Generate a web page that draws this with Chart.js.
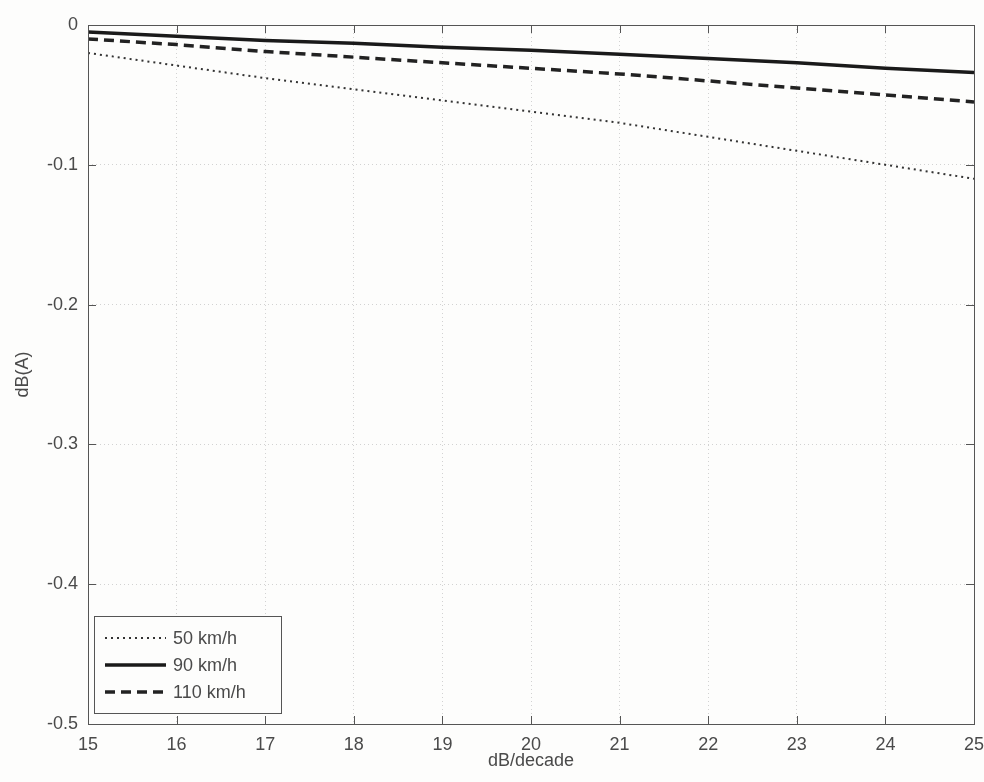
<!DOCTYPE html>
<html>

<head>
    <script src="https://cdn.jsdelivr.net/npm/chart.js@4.4.0/dist/chart.umd.min.js"></script>
    <style>
        html, body { margin: 0; padding: 0; background: #fdfdfc; }
        #wrap { width: 984px; height: 782px; }
    </style>
</head>

<body>
    <div id="wrap">
        <canvas id="myChart" width="984" height="782"></canvas>
    </div>
    <script>
        // slope values (dB/decade) and attenuation per speed
        const slopes = [15, 16, 17, 18, 19, 20, 21, 22, 23, 24, 25];
        const speedLabels = ["50 km/h", "90 km/h", "110 km/h"];
        const v50 = [-0.020, -0.029, -0.038, -0.046, -0.054, -0.062, -0.070, -0.080, -0.090, -0.100, -0.110];
        const v90 = [-0.005, -0.008, -0.011, -0.013, -0.016, -0.018, -0.021, -0.024, -0.027, -0.031, -0.034];
        const v110 = [-0.010, -0.014, -0.019, -0.023, -0.027, -0.031, -0.035, -0.040, -0.045, -0.050, -0.055];
        const yTicks = [0, -0.1, -0.2, -0.3, -0.4, -0.5];

        const FONT = "'Liberation Sans', Arial, sans-serif";
        const TXT = '#4a4a4a';

        function toPoints(vals) {
            return slopes.map((x, i) => ({ x: x, y: vals[i] }));
        }

        // box around the axes with inward ticks on every side
        const framePlugin = {
            id: 'frame',
            afterDatasetsDraw(chart) {
                const { ctx, chartArea: a, scales } = chart;
                ctx.save();
                ctx.strokeStyle = '#555';
                ctx.lineWidth = 1;
                ctx.strokeRect(a.left + 0.5, a.top + 0.5, a.right - a.left, a.bottom - a.top);
                const len = 8;
                ctx.beginPath();
                scales.x.ticks.forEach(t => {
                    const px = Math.round(scales.x.getPixelForValue(t.value)) + 0.5;
                    ctx.moveTo(px, a.bottom); ctx.lineTo(px, a.bottom - len);
                    ctx.moveTo(px, a.top); ctx.lineTo(px, a.top + len);
                });
                scales.y.ticks.forEach(t => {
                    const py = Math.round(scales.y.getPixelForValue(t.value)) + 0.5;
                    ctx.moveTo(a.left, py); ctx.lineTo(a.left + len, py);
                    ctx.moveTo(a.right, py); ctx.lineTo(a.right - len, py);
                });
                ctx.stroke();
                ctx.restore();
            }
        };

        // legend drawn inside the lower left corner of the plot
        const boxLegend = {
            id: 'boxLegend',
            afterDraw(chart) {
                const { ctx, chartArea: a } = chart;
                const x0 = a.left + 6, y0 = a.bottom - 108, w = 187, h = 97;
                ctx.save();
                ctx.fillStyle = '#fdfdfc';
                ctx.fillRect(x0, y0, w, h);
                ctx.strokeStyle = '#555';
                ctx.lineWidth = 1;
                ctx.strokeRect(x0 + 0.5, y0 + 0.5, w, h);
                ctx.font = '18px ' + FONT;
                ctx.textBaseline = 'middle';
                chart.data.datasets.forEach((ds, i) => {
                    const cy = y0 + 22 + i * 27;
                    ctx.beginPath();
                    ctx.setLineDash(ds.borderDash || []);
                    ctx.strokeStyle = ds.borderColor;
                    ctx.lineWidth = ds.borderWidth;
                    ctx.moveTo(x0 + 11, cy);
                    ctx.lineTo(x0 + 72, cy);
                    ctx.stroke();
                    ctx.setLineDash([]);
                    ctx.fillStyle = TXT;
                    ctx.fillText(ds.label, x0 + 79, cy + 1);
                });
                ctx.restore();
            }
        };

        (function () {
            new Chart(document.getElementById('myChart'), {
                type: 'line',
                data: {
                    datasets: [{
                        label: speedLabels[0],
                        data: toPoints(v50),
                        borderColor: '#333',
                        borderWidth: 2,
                        borderDash: [2, 4],
                        pointRadius: 0
                    }, {
                        label: speedLabels[1],
                        data: toPoints(v90),
                        borderColor: '#1a1a1a',
                        borderWidth: 3.5,
                        pointRadius: 0
                    }, {
                        label: speedLabels[2],
                        data: toPoints(v110),
                        borderColor: '#222',
                        borderWidth: 3.5,
                        borderDash: [10, 6],
                        pointRadius: 0
                    }]
                },
                options: {
                    responsive: false,
                    animation: false,
                    layout: { autoPadding: false, padding: { left: 12, top: 25, right: 10, bottom: 10 } },
                    plugins: {
                        legend: { display: false },
                        tooltip: { enabled: false }
                    },
                    scales: {
                        x: {
                            type: 'linear',
                            min: 15,
                            max: 25,
                            afterFit(scale) {
                                scale.height = 48;
                                // last label may hang past the right edge
                                scale.paddingLeft = 0;
                                scale.paddingRight = 0;
                            },
                            ticks: {
                                stepSize: 1,
                                color: TXT,
                                padding: 10,
                                font: { family: FONT, size: 18 }
                            },
                            grid: { color: '#d2d2d2', tickLength: 0, drawTicks: false },
                            border: { display: false, dash: [1, 3] },
                            title: {
                                display: true,
                                text: 'dB/decade',
                                color: TXT,
                                padding: { top: 0, bottom: 0 },
                                font: { family: FONT, size: 18 }
                            }
                        },
                        y: {
                            min: -0.5,
                            max: 0,
                            afterFit(scale) {
                                scale.width = 76;
                                scale.paddingTop = 0;
                                scale.paddingBottom = 0;
                            },
                            afterBuildTicks(scale) {
                                scale.ticks = yTicks.map(v => ({ value: v }));
                            },
                            ticks: {
                                color: TXT,
                                padding: 10,
                                font: { family: FONT, size: 18 },
                                callback: v => v === 0 ? '0' : String(Math.round(v * 10) / 10)
                            },
                            grid: { color: '#d2d2d2', tickLength: 0, drawTicks: false },
                            border: { display: false, dash: [1, 3] },
                            title: {
                                display: true,
                                text: 'dB(A)',
                                color: TXT,
                                padding: { top: 0, bottom: 0 },
                                font: { family: FONT, size: 18 }
                            }
                        }
                    }
                },
                plugins: [framePlugin, boxLegend]
            });
        })();
    </script>
</body>

</html>
